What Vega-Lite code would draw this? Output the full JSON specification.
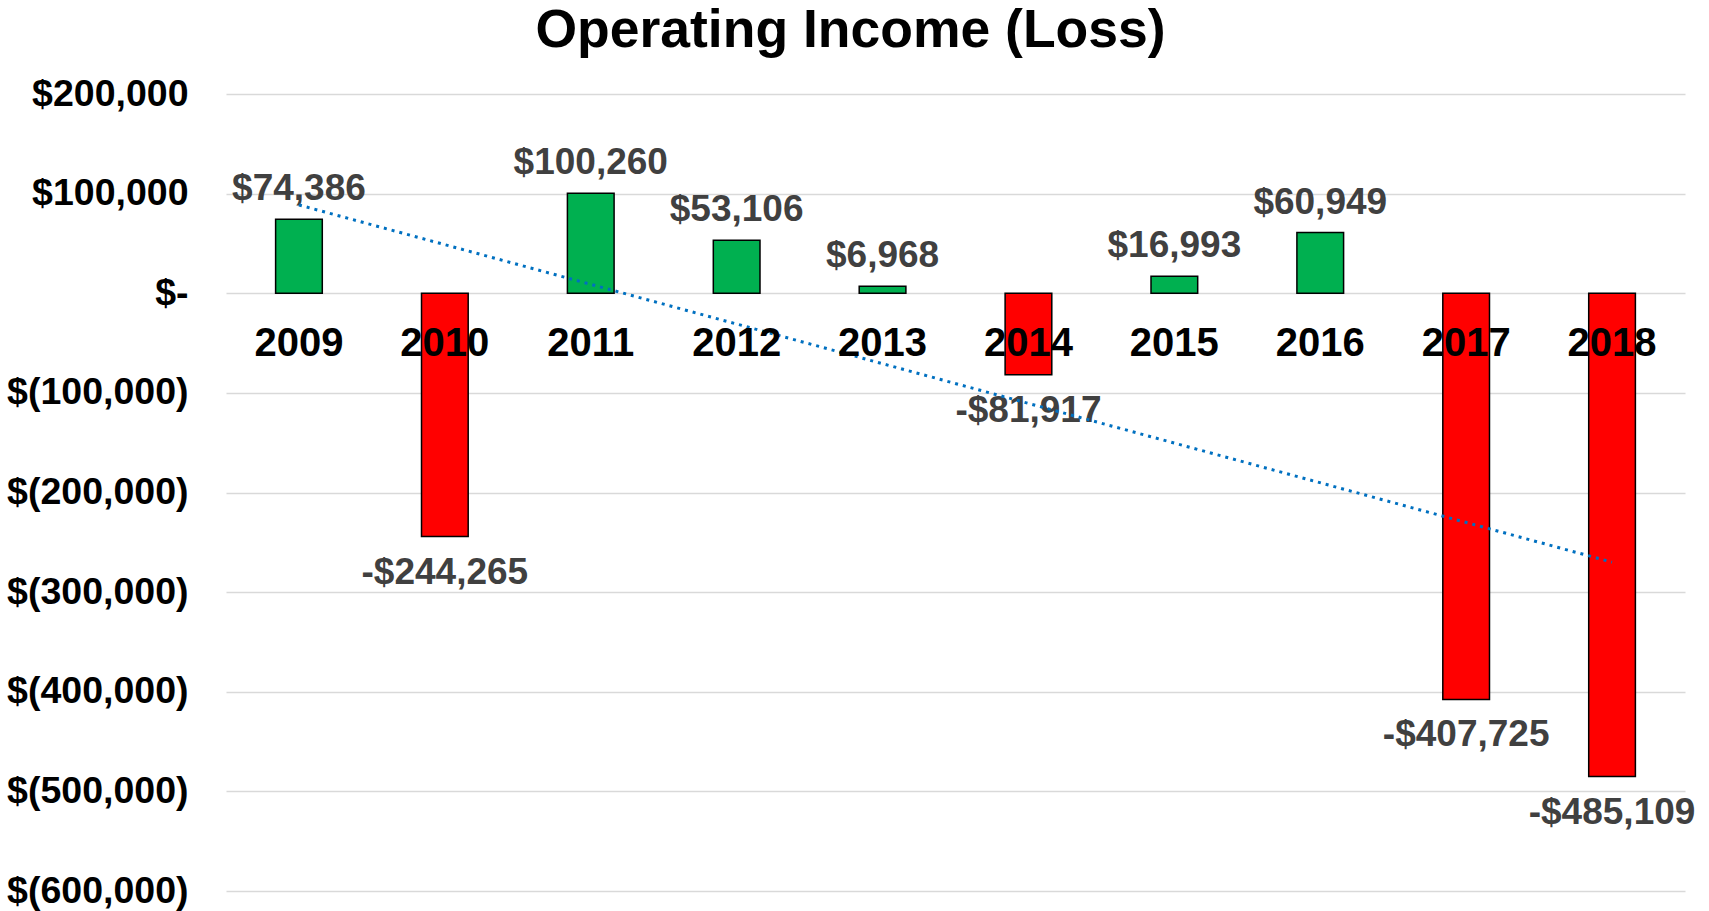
{
  "$schema": "https://vega.github.io/schema/vega-lite/v6.json",
  "width": 1459,
  "height": 797,
  "autosize": "none",
  "padding": {"left": 226, "top": 94, "right": 24, "bottom": 20},
  "background": "white",
  "config": {
    "view": {"stroke": null},
    "font": "Liberation Sans",
    "locale": {"number": {"decimal": ".", "thousands": ",", "grouping": [3], "currency": ["$", ""], "minus": "-"}}
  },
  "title": {
    "text": "Operating Income (Loss)",
    "font": "Liberation Sans",
    "fontSize": 53.5,
    "fontWeight": "bold",
    "color": "#000000",
    "anchor": "middle",
    "baseline": "alphabetic",
    "dx": -105,
    "dy": 55,
    "offset": 30
  },
  "data": {
    "values": [
      {"Year": 2009, "Value": 74386},
      {"Year": 2010, "Value": -244265},
      {"Year": 2011, "Value": 100260},
      {"Year": 2012, "Value": 53106},
      {"Year": 2013, "Value": 6968},
      {"Year": 2014, "Value": -81917},
      {"Year": 2015, "Value": 16993},
      {"Year": 2016, "Value": 60949},
      {"Year": 2017, "Value": -407725},
      {"Year": 2018, "Value": -485109}
    ]
  },
  "encoding": {
    "x": {
      "field": "Year",
      "type": "ordinal",
      "scale": {"type": "band", "paddingInner": 0.68, "paddingOuter": 0.34},
      "axis": {
        "title": null,
        "orient": "bottom",
        "offset": -536,
        "domain": false,
        "ticks": false,
        "labelPadding": 0,
        "labelBaseline": "alphabetic",
        "labelAngle": 0,
        "labelFont": "Liberation Sans",
        "labelFontSize": 40,
        "labelFontWeight": "bold",
        "labelColor": "#000000",
        "zindex": 2
      }
    },
    "y": {
      "field": "Value",
      "type": "quantitative",
      "scale": {"domain": [-600000, 200000], "nice": false, "zero": false},
      "axis": {
        "title": null,
        "values": [-600000, -500000, -400000, -300000, -200000, -100000, 0, 100000, 200000],
        "labelExpr": "datum.value == 0 ? '$-' : (datum.value < 0 ? '$(' + format(-datum.value, ',') + ')' : '$' + format(datum.value, ','))",
        "domain": false,
        "ticks": false,
        "labelPadding": 38,
        "labelLimit": 400,
        "labelFont": "Liberation Sans",
        "labelFontSize": 37.5,
        "labelFontWeight": "bold",
        "labelColor": "#000000",
        "gridColor": "#D9D9D9",
        "gridWidth": 1.5,
        "zindex": 0,
        "encode": {
          "labels": {
            "update": {
              "x": {"signal": "datum.value < 0 ? -32 : -43"}
            }
          }
        }
      }
    }
  },
  "layer": [
    {
      "mark": {"type": "bar", "stroke": "#000000", "strokeWidth": 1.5},
      "encoding": {
        "color": {
          "condition": {"test": "datum.Value < 0", "value": "#FF0000"},
          "value": "#00B050"
        }
      }
    },
    {
      "transform": [{"filter": "datum.Value >= 0"}],
      "mark": {"type": "text", "baseline": "alphabetic", "dy": -19, "font": "Liberation Sans", "fontSize": 37, "fontWeight": "bold", "color": "#404040"},
      "encoding": {
        "text": {"field": "Value", "type": "quantitative", "format": "$,.0f"}
      }
    },
    {
      "transform": [{"filter": "datum.Value < 0"}],
      "mark": {"type": "text", "baseline": "alphabetic", "dy": 47, "font": "Liberation Sans", "fontSize": 37, "fontWeight": "bold", "color": "#404040"},
      "encoding": {
        "text": {"field": "Value", "type": "quantitative", "format": "$,.0f"}
      }
    },
    {
      "transform": [{"regression": "Value", "on": "Year"}],
      "mark": {"type": "line", "color": "#0070C0", "strokeWidth": 3, "strokeDash": [3, 5]},
      "encoding": {}
    }
  ]
}
